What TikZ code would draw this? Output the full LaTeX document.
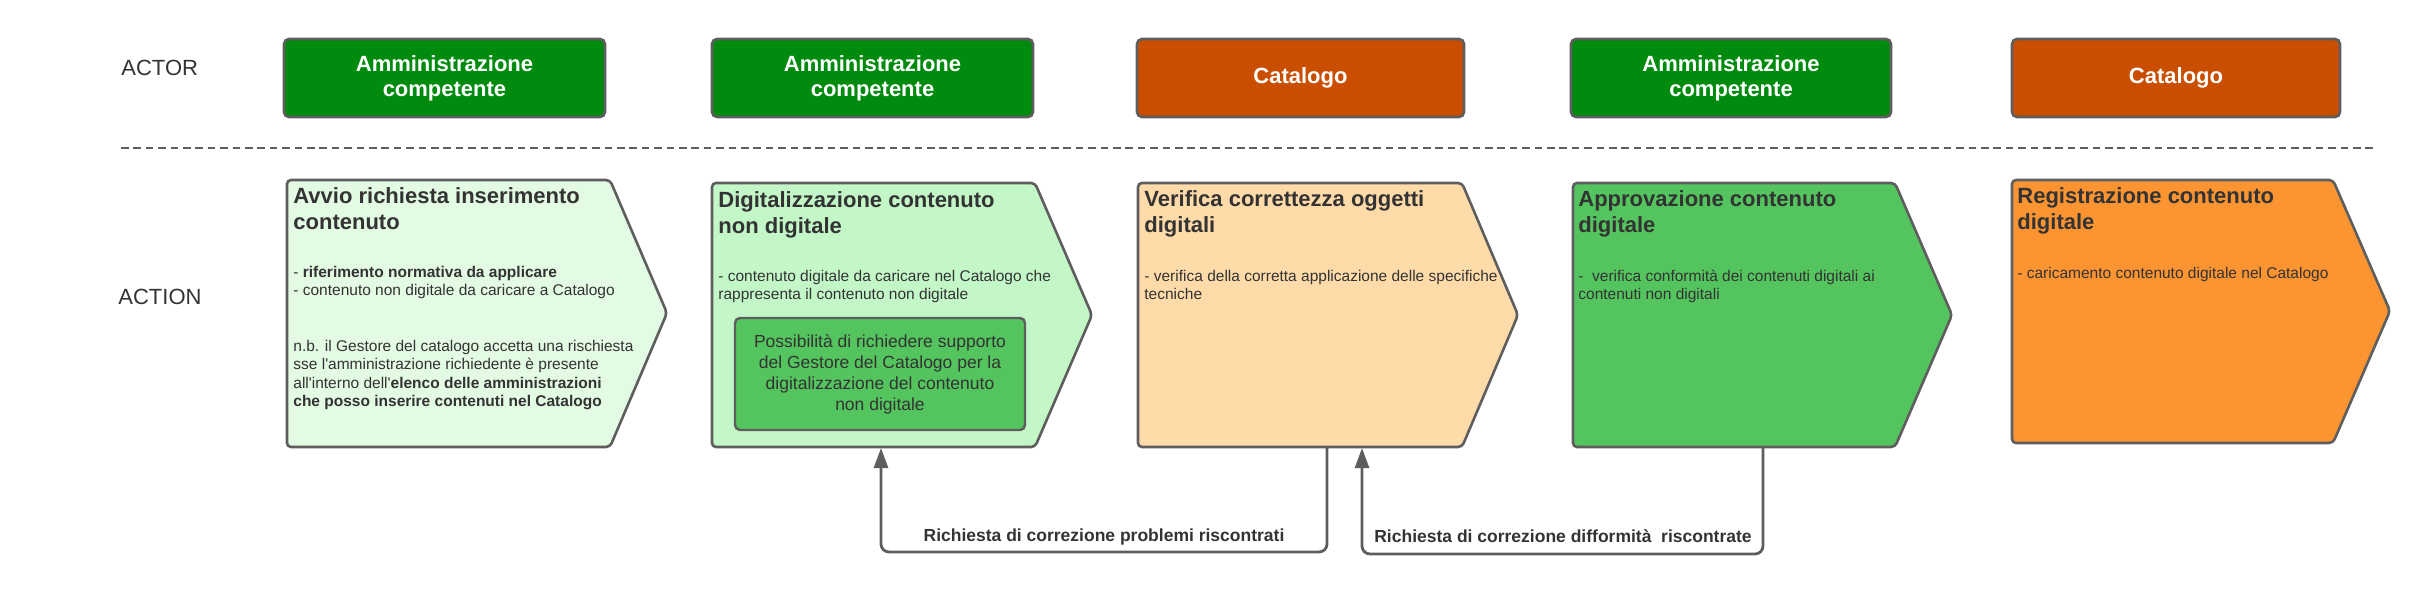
\documentclass[tikz,border=0pt]{standalone}
\usepackage{fontspec}
\setmainfont{Liberation Sans}[Ligatures=TeXOff]
\usetikzlibrary{arrows.meta}
\definecolor{bordergray}{HTML}{5E5E5E}
\definecolor{txt}{HTML}{333333}
\definecolor{actgreen}{HTML}{008A0E}
\definecolor{actorange}{HTML}{C94E00}
\definecolor{fillA}{HTML}{E3FAE3}
\definecolor{fillB}{HTML}{C3F7C8}
\definecolor{fillC}{HTML}{FFDBA9}
\definecolor{fillD}{HTML}{54C45E}
\definecolor{fillE}{HTML}{FC9432}
\begin{document}
\begin{tikzpicture}[x=0.5pt,y=-0.5pt,
  actorbox/.style={draw=bordergray, line width=1.3pt, rounded corners=2.5pt, text=white,
    font=\fontsize{11pt}{12.5pt}\selectfont\bfseries, align=center, inner sep=0pt, minimum height=39pt},
  lanelabel/.style={anchor=base west, inner sep=0pt, text=txt, font=\fontsize{11pt}{13pt}\selectfont},
  stepshape/.style={draw=bordergray, line width=1.3pt, rounded corners=2pt},
  titletext/.style={anchor=base west, inner sep=0pt, text=txt, font=\fontsize{11pt}{13pt}\selectfont\bfseries},
  bodytext/.style={anchor=base west, inner sep=0pt, text=txt, font=\fontsize{7.75pt}{9.25pt}\selectfont},
  innerbox/.style={draw=bordergray, line width=1.2pt, rounded corners=2.5pt, fill=fillD, text=txt,
    font=\fontsize{8.75pt}{10.5pt}\selectfont, align=center, inner sep=0pt, minimum width=145pt, minimum height=56pt},
  dashline/.style={draw=bordergray, line width=1pt, dash pattern=on 3.8pt off 2.4pt},
  connector/.style={draw=bordergray, line width=1.4pt, rounded corners=4pt, -{Triangle[length=10pt,width=7pt]}},
  conlabel/.style={anchor=base, inner sep=0pt, text=txt, font=\fontsize{8.75pt}{10pt}\selectfont\bfseries}
]
\useasboundingbox (0,0) rectangle (2432,595);

% lane labels
\node[lanelabel] (actor) at (121,75) {ACTOR};
\node[lanelabel] (action) at (118,304) {ACTION};

% actors
\node[actorbox, fill=actgreen, minimum width=160.5pt] (a1) at (444.5,78) {Amministrazione\\competente};
\node[actorbox, fill=actgreen, minimum width=160.5pt] (a2) at (872.5,78) {Amministrazione\\competente};
\node[actorbox, fill=actorange, minimum width=163.5pt] (a3) at (1300.5,78) {Catalogo};
\node[actorbox, fill=actgreen, minimum width=160pt] (a4) at (1731,78) {Amministrazione\\competente};
\node[actorbox, fill=actorange, minimum width=164pt] (a5) at (2176,78) {Catalogo};

% divider
\draw[dashline] (121,148) -- (2373,148);

% step 1
\draw[stepshape, fill=fillA] (287,180) -- (610,180) -- (667,313) -- (610,447) -- (287,447) -- cycle;
\node[titletext] (t1) at (293,203) {\vtop{\hbox{Avvio richiesta inserimento}\hbox{contenuto}}};
\node[bodytext] (b1) at (293,277) {\vtop{\hbox{- \textbf{riferimento normativa da applicare}}\hbox{- contenuto non digitale da caricare a Catalogo}\hbox{}\hbox{}\hbox{n.b. il Gestore del catalogo accetta una rischiesta}\hbox{sse l'amministrazione richiedente è presente}\hbox{all'interno dell'\textbf{elenco delle amministrazioni}}\hbox{\textbf{che posso inserire contenuti nel Catalogo}}}};

% step 2
\draw[stepshape, fill=fillB] (712,183) -- (1035,183) -- (1092,315) -- (1035,447) -- (712,447) -- cycle;
\node[titletext] (t2) at (718,207) {\vtop{\hbox{Digitalizzazione contenuto}\hbox{non digitale}}};
\node[bodytext] (b2) at (718,281) {\vtop{\hbox{- contenuto digitale da caricare nel Catalogo che}\hbox{rappresenta il contenuto non digitale}}};
\node[innerbox] (ib) at (880,374) {Possibilità di richiedere supporto\\del Gestore del Catalogo per la\\digitalizzazione del contenuto\\non digitale};

% step 3
\draw[stepshape, fill=fillC] (1138,183) -- (1462,183) -- (1518,315) -- (1462,447) -- (1138,447) -- cycle;
\node[titletext] (t3) at (1144,206) {\vtop{\hbox{Verifica correttezza oggetti}\hbox{digitali}}};
\node[bodytext] (b3) at (1144,281) {\vtop{\hbox{- verifica della corretta applicazione delle specifiche}\hbox{tecniche}}};

% step 4
\draw[stepshape, fill=fillD] (1573,183) -- (1895,183) -- (1952,315) -- (1895,447) -- (1573,447) -- cycle;
\node[titletext] (t4) at (1578,206) {\vtop{\hbox{Approvazione contenuto}\hbox{digitale}}};
\node[bodytext] (b4) at (1578,281) {\vtop{\hbox{-\ \ verifica conformità dei contenuti digitali ai}\hbox{contenuti non digitali}}};

% step 5
\draw[stepshape, fill=fillE] (2012,180) -- (2333,180) -- (2390,311) -- (2333,443) -- (2012,443) -- cycle;
\node[titletext] (t5) at (2017,203) {\vtop{\hbox{Registrazione contenuto}\hbox{digitale}}};
\node[bodytext] (b5) at (2017,278) {- caricamento contenuto digitale nel Catalogo};

% connectors
\coordinate (s3out) at (1327,447);
\coordinate (s2in) at (881,448);
\coordinate (s4out) at (1763,447);
\coordinate (s3in) at (1362,448);
\draw[connector] (s3out) -- ++(0,105) -| (s2in);
\draw[connector] (s4out) -- ++(0,107) -| (s3in);
\node[conlabel] (l1) at (1104,541.5) {Richiesta di correzione problemi riscontrati};
\node[conlabel] (l2) at (1563,542.5) {Richiesta di correzione difformità\ \ riscontrate};
\end{tikzpicture}
\end{document}
